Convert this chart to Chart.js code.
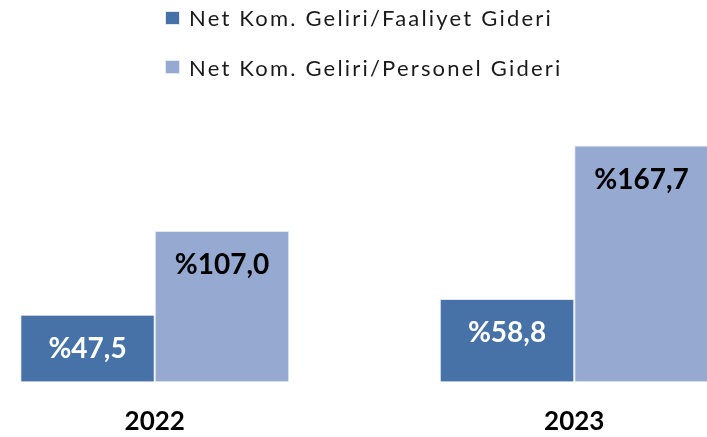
<!DOCTYPE html>
<html>
<head>
<meta charset="utf-8">
<script src="https://cdn.jsdelivr.net/npm/chart.js@4"></script>
<style>
  html, body { margin: 0; padding: 0; background: #fff; overflow: hidden; }
  body { width: 707px; height: 437px; position: relative; }
  #wrap { position: absolute; left: -55px; top: 0; width: 839px; height: 437px; }
  #legend { position: absolute; left: 165px; top: -7px; font-family: Lato, sans-serif; font-size: 22px;
            letter-spacing: 2.2px; color: #1a1a1a; }
  #legend .row { height: 49.5px; display: flex; align-items: center; white-space: nowrap; }
  #legend .box { width: 15px; height: 14px; margin-right: 9px; box-sizing: border-box; border: 1px solid #e4e9f1; }
</style>
</head>
<body>
<div id="wrap"><canvas id="chart"></canvas></div>
<div id="legend"></div>
<script>
const years = ['2022', '2023'];
const seriesNames = ['Net Kom. Geliri/Faaliyet Gideri', 'Net Kom. Geliri/Personel Gideri'];
const faaliyet = [47.5, 58.8];
const personel = [107.0, 167.7];

const barColors = ['#4672a8', '#95a9d1'];
const labelColors = ['#ffffff', '#000000'];

// value labels near the top inside each bar, Turkish style "%47,5"
const valueLabels = {
    id: 'valueLabels',
    afterDatasetsDraw(chart) {
        const ctx = chart.ctx;
        chart.data.datasets.forEach((ds, i) => {
            chart.getDatasetMeta(i).data.forEach((bar, j) => {
                ctx.save();
                ctx.font = 'bold 28px Lato';
                ctx.fillStyle = labelColors[i];
                ctx.textAlign = 'center';
                ctx.textBaseline = 'middle';
                ctx.fillText('%' + ds.data[j].toFixed(1).replace('.', ','), bar.x, bar.y + 34);
                ctx.restore();
            });
        });
    }
};

document.addEventListener("DOMContentLoaded", function() {
    let chart = new Chart(document.getElementById('chart'), {
        type: 'bar',
        data: {
            labels: years,
            datasets: [{
                label: seriesNames[0],
                data: faaliyet,
                backgroundColor: barColors[0],
                borderColor: '#e4e9f1',
                borderWidth: 1
            }, {
                label: seriesNames[1],
                data: personel,
                backgroundColor: barColors[1],
                borderColor: '#e4e9f1',
                borderWidth: 1
            }]
        },
        options: {
            responsive: true,
            maintainAspectRatio: false,
            animation: false,
            categoryPercentage: 0.641,
            barPercentage: 1.0,
            layout: { padding: { top: 100, bottom: -24 } },
            scales: {
                x: {
                    grid: { display: false, drawTicks: false },
                    border: { display: false },
                    ticks: { color: '#000', padding: 24, font: { family: 'Lato', size: 26, weight: 'bold' } }
                },
                y: {
                    display: false,
                    min: 0,
                    max: 200
                }
            },
            plugins: {
                legend: { display: false },
                tooltip: { enabled: false }
            }
        },
        plugins: [valueLabels]
    });

    // html legend, one series per row like the original
    let legend = document.getElementById('legend');
    chart.data.datasets.forEach(function(ds) {
        let row = document.createElement('div');
        row.className = 'row';
        let box = document.createElement('span');
        box.className = 'box';
        box.style.background = ds.backgroundColor;
        row.appendChild(box);
        row.appendChild(document.createTextNode(ds.label));
        legend.appendChild(row);
    });
});
</script>
</body>
</html>
